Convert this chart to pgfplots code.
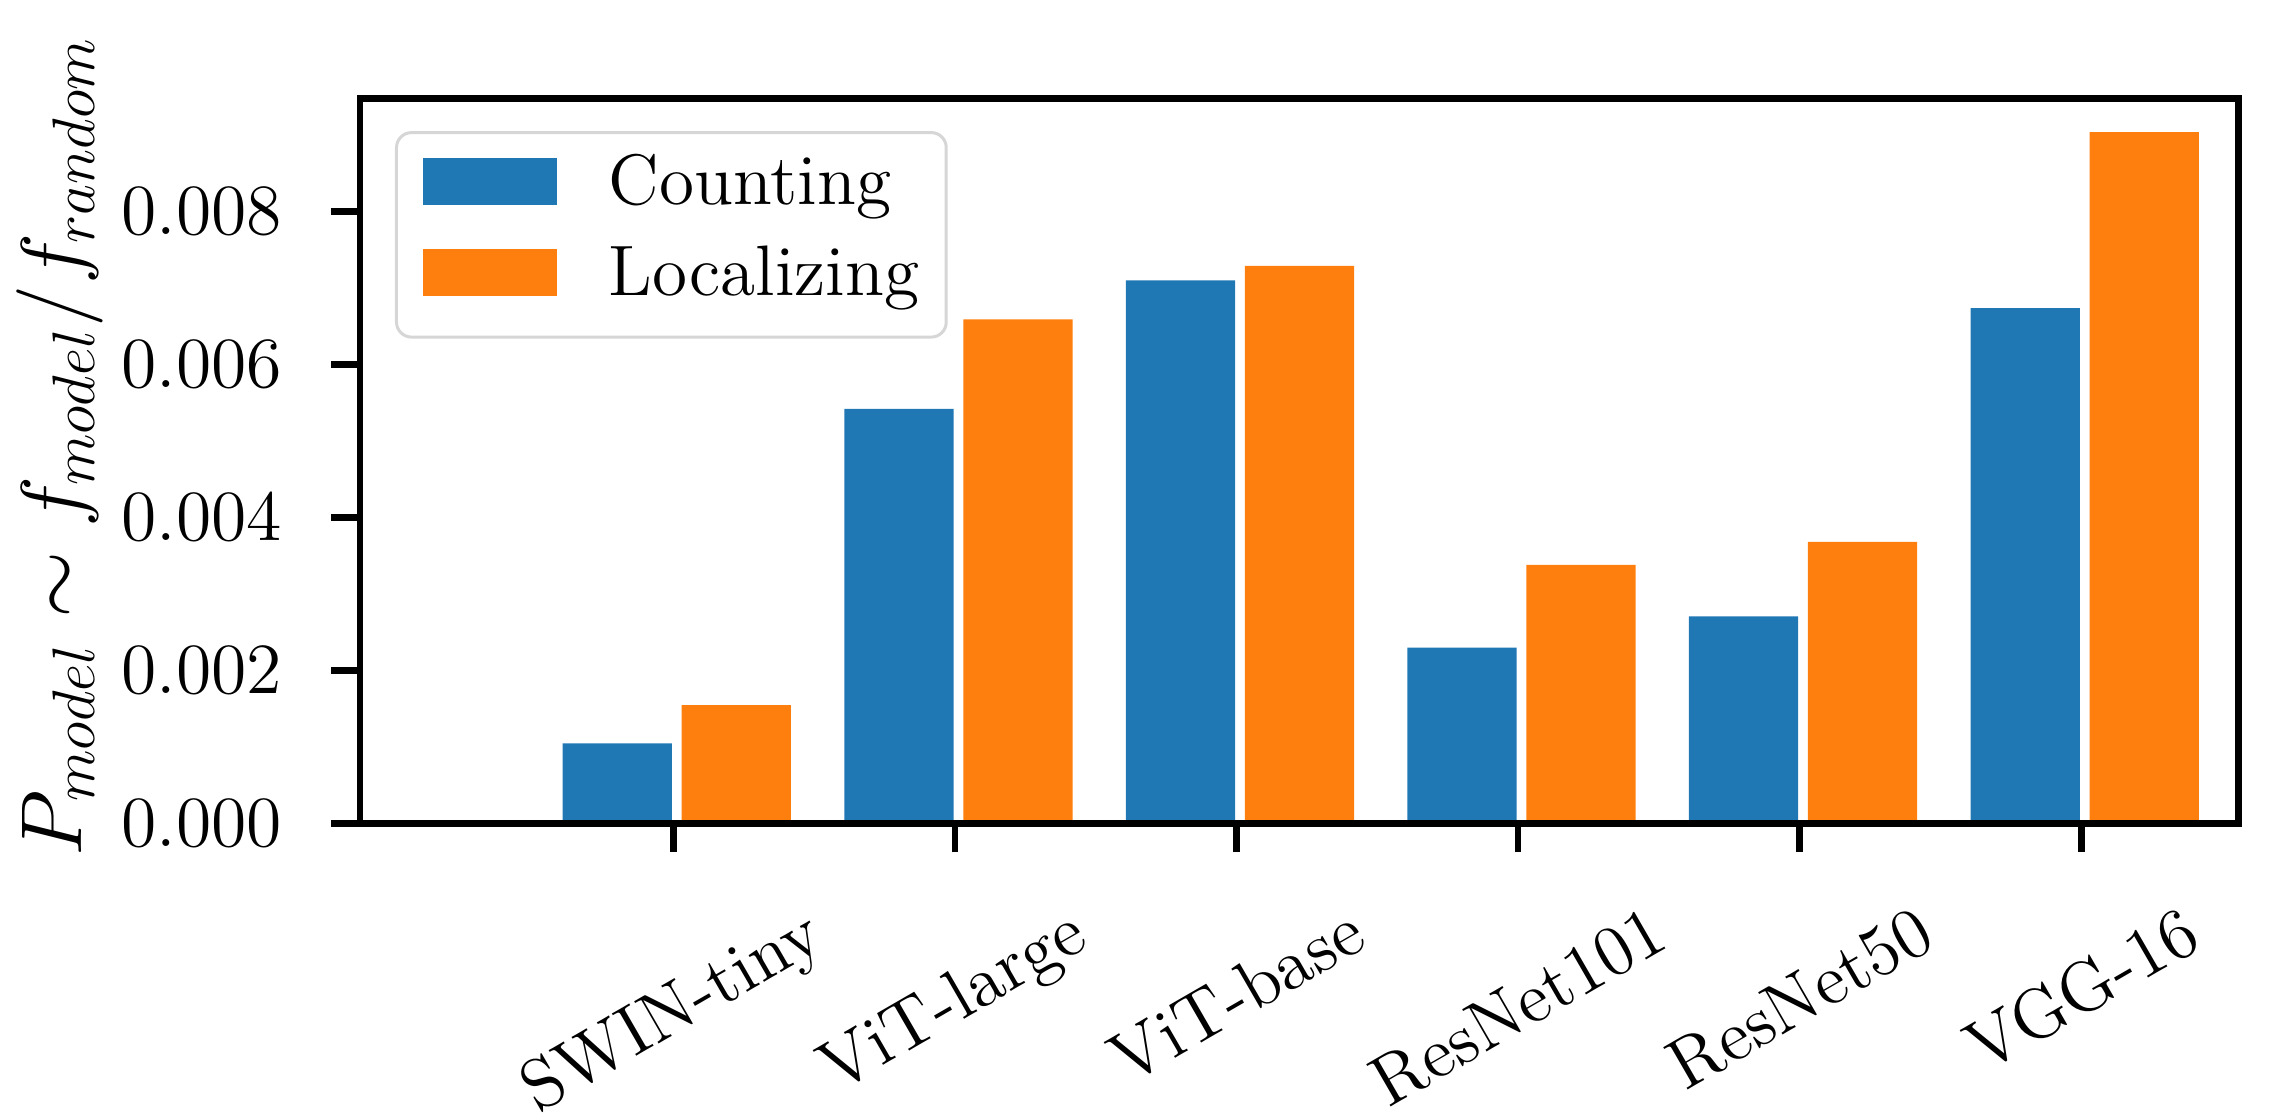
\documentclass[border=0pt]{standalone}
\usepackage{graphicx}
\usepackage{pgfplots}
\pgfplotsset{compat=1.18}
\definecolor{tabblue}{HTML}{1F77B4}
\definecolor{taborange}{HTML}{FF7F0E}
\newcommand{\tf}{\fontsize{14.3}{16}\selectfont}
\begin{document}
\begin{tikzpicture}
\begin{axis}[
  scale only axis, width=375.66pt, height=145pt,
  xmin=-1.113, xmax=5.558, ymin=0, ymax=0.009483,
  axis on top,
  axis line style={line width=1.33pt, black},
  tick pos=left, tick align=outside,
  major tick length=5.8pt,
  major tick style={line width=1.33pt, black},
  xtick={0,1,2,3,4,5},
  xticklabels={\rotatebox{30}{SWIN-tiny},\rotatebox{30}{ViT-large},\rotatebox{30}{ViT-base},\rotatebox{30}{ResNet101},\rotatebox{30}{ResNet50},\rotatebox{30}{VGG-16}},
  xticklabel style={font=\tf, anchor=north, inner sep=0pt, yshift=-10.0pt},
  ytick={0,0.002,0.004,0.006,0.008},
  scaled y ticks=false,
  yticklabel style={font=\tf, anchor=east, inner sep=0pt, xshift=-9.6pt, /pgf/number format/.cd, fixed, fixed zerofill, precision=3},
  ylabel={$P_{model} \sim f_{model}/f_{random}$},
  ylabel style={font=\fontsize{16.6}{19}\selectfont, at={(rel axis cs:-0.1835,0.520)}, anchor=north, inner sep=0pt},
  legend style={at={(rel axis cs:0,1)}, anchor=north west, xshift=7pt, yshift=-6.56pt, draw=black!16, line width=0.6pt, rounded corners=3pt, inner xsep=5.4pt, inner ysep=4.9pt, row sep=5.3pt, column sep=10.5pt, font=\tf, nodes={inner sep=0pt, text height=9.5pt, text depth=3.4pt, anchor=base west}},
  legend cell align=left,
  legend image code/.code={\fill[#1, sharp corners, draw=none] (0pt,0pt) rectangle (26.6pt,9.4pt);},
]
\addplot[ybar, bar width=0.388, bar shift=-0.199, fill=tabblue, draw=none] coordinates {(0,0.001046) (1,0.00542) (2,0.00710) (3,0.002297) (4,0.002708) (5,0.00674)};
\addlegendentry{Counting}
\addplot[ybar, bar width=0.388, bar shift=0.2235, fill=taborange, draw=none] coordinates {(0,0.001547) (1,0.00659) (2,0.00729) (3,0.00338) (4,0.00368) (5,0.00904)};
\addlegendentry{Localizing}
\end{axis}
\pgfresetboundingbox
\path[use as bounding box] ([xshift=-72pt,yshift=-57.74pt]current axis.south west) rectangle ([xshift=6.74pt,yshift=19.66pt]current axis.north east);
\end{tikzpicture}
\end{document}
